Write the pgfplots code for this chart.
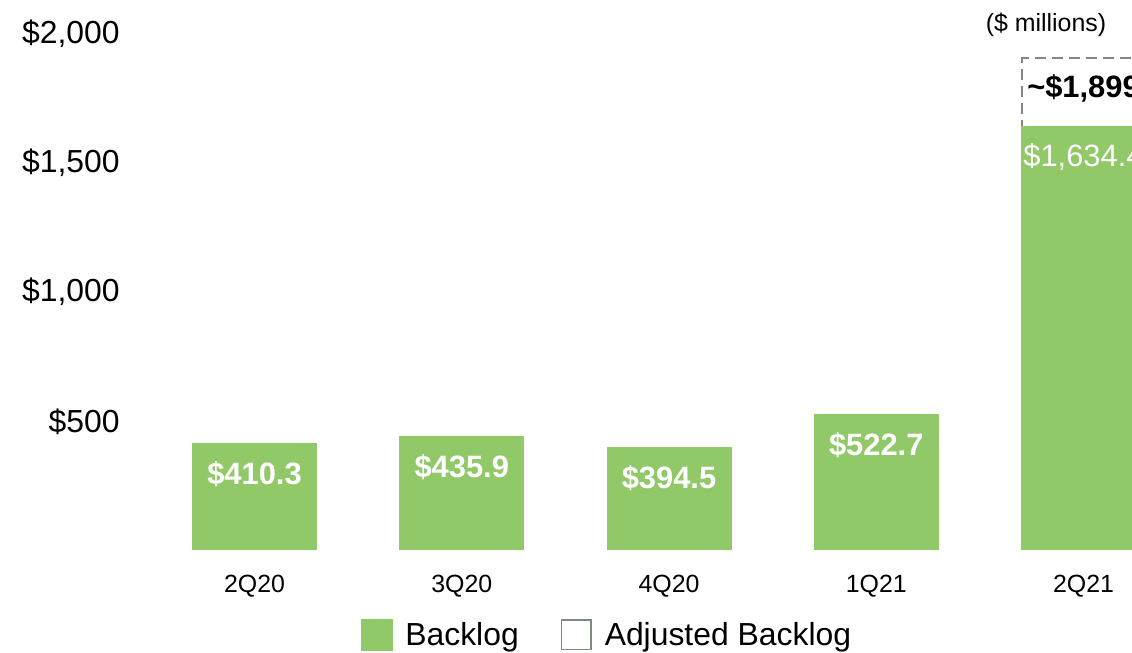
\documentclass[border=0pt]{standalone}
\usepackage{fontspec}
\setmainfont{Liberation Sans}
\usepackage{pgfplots}
\pgfplotsset{compat=1.18}
\definecolor{bgreen}{RGB}{146,201,104}
\definecolor{dgrey}{RGB}{125,140,125}
\begin{document}
\begin{tikzpicture}[x=1bp,y=1bp]
\useasboundingbox (0,0) rectangle (1132,653);
\clip (0,0) rectangle (1132,653);
\begin{axis}[
  at={(130.15bp,103bp)}, anchor=south west,
  scale only axis, width=1001.85bp, height=550bp,
  xmin=-0.6, xmax=4.234, ymin=0, ymax=2125,
  axis line style={draw=none}, major tick length=0pt,
  xtick pos=left, ytick pos=left,
  ybar, bar width=123bp, bar shift=0pt,
  xtick={0,1,2,3,4}, xticklabels={2Q20,3Q20,4Q20,1Q21,2Q21},
  ytick={500,1000,1500,2000}, yticklabels={\$500,{\$1,000},{\$1,500},{\$2,000}},
  y tick label style={font=\fontsize{32}{37}\selectfont, anchor=east, xshift=-7bp, yshift=-1bp},
  x tick label style={font=\fontsize{25}{30}\selectfont, yshift=-22bp},
  legend style={draw=none, at={(0.476,-0.1545)}, anchor=center, inner sep=0pt,
    font=\fontsize{32}{37}\selectfont,
    /tikz/every odd column/.append style={column sep=11bp},
    /tikz/every even column/.append style={column sep=40bp}},
  legend columns=2, legend cell align=left,
  clip=true,
]
\addplot[forget plot, fill=none, draw=dgrey, line width=2bp, dash pattern=on 11bp off 6bp,
  nodes near coords, point meta=explicit symbolic,
  every node near coord/.style={anchor=center, yshift=-30bp, text=black, font=\fontsize{31}{36}\selectfont}]
  coordinates {(4,1899) [\textbf{\char`\~\$1,899}]};
\addplot[forget plot, fill=bgreen, draw=bgreen, line width=2bp,
  nodes near coords, point meta=explicit symbolic,
  every node near coord/.style={anchor=center, yshift=-30bp, text=white, font=\fontsize{31}{36}\selectfont}]
  coordinates {(0,410.3) [\textbf{\$410.3}] (1,435.9) [\textbf{\$435.9}] (2,394.5) [\textbf{\$394.5}] (3,522.7) [\textbf{\$522.7}] (4,1634.4) [\$1,634.4]};
\addlegendimage{legend image code/.code={\fill[bgreen] (0bp,-15.5bp) rectangle (31bp,15.5bp);}}
\addlegendentry{Backlog}
\addlegendimage{legend image code/.code={\draw[dgrey, line width=1.5bp, fill=white] (0.75bp,-14.75bp) rectangle (30.25bp,14.75bp);}}
\addlegendentry{Adjusted Backlog}
\end{axis}
\node[font=\fontsize{25}{30}\selectfont] at (1046,628) {(\$ millions)};
\end{tikzpicture}
\end{document}
